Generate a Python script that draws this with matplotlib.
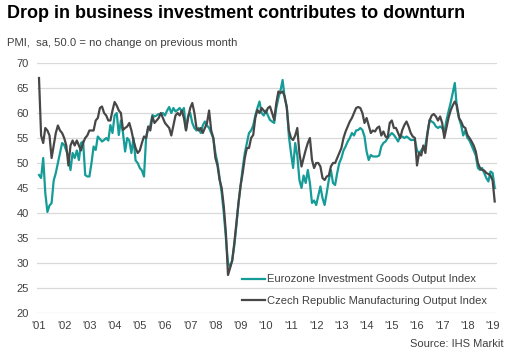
import numpy as np
import matplotlib
matplotlib.use('Agg')
import matplotlib.pyplot as plt

plt.rcParams['font.family'] = ['Liberation Sans', 'DejaVu Sans']

#x tick labels, one per january
years = ["'01", "'02", "'03", "'04", "'05", "'06", "'07", "'08", "'09", "'10",
         "'11", "'12", "'13", "'14", "'15", "'16", "'17", "'18", "'19"]

#eurozone investment goods output index, monthly from jan 2001
ez = [47.6, 47.0, 51.0, 44.0, 40.2, 41.5, 42.0, 46.5, 48.0, 50.0, 52.0, 54.0,
      53.6, 52.5, 51.3, 48.6, 52.0, 51.0, 52.5, 50.6, 54.0, 54.3, 47.6, 47.3,
      47.3, 50.0, 53.3, 52.6, 55.3, 54.8, 54.3, 54.6, 55.0, 54.5, 57.6, 56.0,
      59.5, 60.0, 55.6, 58.5, 56.0, 52.3, 55.0, 54.5, 52.0, 55.0, 50.5, 50.0,
      49.0, 48.5, 47.3, 55.0, 57.0, 57.5, 59.6, 59.3, 59.5, 59.8, 59.6, 60.0,
      59.5, 60.5, 61.2, 60.0, 61.0, 60.3, 60.6, 61.0, 60.3, 61.0, 56.6, 59.5,
      60.0, 58.0, 57.0, 56.5, 57.0, 56.0, 57.5, 58.3, 57.5, 57.0, 56.0, 55.0,
      52.0, 50.0, 47.0, 44.0, 40.0, 35.0, 30.0, 29.3, 30.5, 33.5, 37.5, 42.0,
      45.5, 49.0, 52.0, 54.0, 56.0, 56.5, 57.5, 59.5, 61.0, 62.3, 60.0, 59.5,
      60.5, 59.5, 58.6, 58.3, 58.0, 61.0, 63.0, 64.5, 66.6, 63.0, 61.3, 55.3,
      52.0, 49.0, 54.0, 51.5, 46.6, 45.0, 47.5, 46.0, 48.6, 46.0, 42.0, 42.5,
      41.6, 43.5, 45.3, 43.0, 41.6, 44.0, 46.6, 48.6, 46.0, 45.6, 48.0, 50.0,
      51.0, 52.5, 53.3, 54.3, 55.0, 56.0, 55.5, 56.5, 56.6, 57.0, 56.6, 55.3,
      52.3, 50.6, 51.6, 51.3, 51.3, 51.3, 51.5, 53.3, 54.0, 54.3, 55.0, 55.5,
      56.0, 55.6, 55.0, 54.3, 55.3, 55.3, 55.0, 55.3, 55.0, 54.6, 54.6, 54.6,
      52.5, 52.0, 52.5, 53.0, 53.5, 56.0, 58.6, 58.3, 58.0, 57.3, 57.0, 57.3,
      57.0, 56.0, 58.5, 60.3, 62.0, 64.0, 66.0, 61.0, 59.0, 57.6, 55.5, 56.5,
      55.0, 54.5, 53.5, 52.5, 51.5, 49.0, 48.6, 49.0, 48.0, 47.0, 46.3, 48.3,
      48.0, 45.0]

#czech republic manufacturing output index, monthly from jan 2001
cz = [67.0, 55.5, 54.0, 57.0, 56.5, 55.5, 51.0, 53.5, 56.0, 57.5, 56.5, 56.0,
      55.0, 53.5, 49.5, 53.5, 54.5, 53.5, 54.5, 53.5, 52.5, 54.0, 55.0, 55.5,
      56.5, 56.5, 56.5, 58.5, 59.0, 61.0, 61.3, 60.0, 59.5, 58.5, 58.5, 60.5,
      62.2, 61.5, 60.5, 60.0, 56.6, 57.0, 57.3, 58.0, 56.5, 54.5, 53.0, 52.0,
      52.5, 54.0, 55.3, 55.0, 57.3, 56.5, 59.3, 58.0, 58.5, 59.0, 60.0, 59.0,
      58.0, 57.5, 57.0, 55.5, 57.5, 59.5, 60.0, 59.5, 60.5, 59.0, 56.5, 59.0,
      61.0, 62.0, 60.0, 57.0, 56.5, 57.0, 56.0, 57.0, 58.0, 60.5, 56.5, 55.0,
      51.0, 49.5, 46.6, 45.0, 41.3, 36.0, 27.6, 29.0, 30.5, 34.0, 38.0, 42.0,
      45.5, 48.0, 51.0, 53.0, 53.0, 55.0, 55.6, 59.0, 60.6, 60.0, 61.0, 60.5,
      60.0, 61.0, 61.3, 60.0, 58.6, 62.0, 64.3, 64.0, 64.3, 63.3, 61.0, 56.5,
      55.0, 54.6, 55.5, 57.0, 52.0, 49.3, 51.0, 52.6, 54.0, 55.0, 50.6, 49.0,
      50.0, 50.0, 49.3, 47.0, 46.6, 47.3, 47.5, 49.3, 50.0, 50.0, 51.0, 52.0,
      53.0, 55.0, 56.3, 57.3, 58.3, 59.0, 60.0, 61.0, 61.2, 61.0, 60.0, 58.0,
      59.0, 57.5, 56.0, 56.5, 56.3, 57.0, 57.3, 55.5, 56.3, 55.3, 55.0, 58.0,
      58.5, 57.0, 57.0, 56.0, 55.0, 56.6, 57.6, 58.3, 57.3, 56.0, 55.3, 55.0,
      49.5, 52.0, 51.5, 53.5, 52.0, 56.0, 58.5, 59.5, 59.8, 59.3, 58.5, 59.3,
      58.0, 55.0, 57.0, 59.0, 60.5, 61.5, 62.3, 61.5, 59.0, 58.3, 57.3, 57.0,
      55.6, 55.0, 54.3, 53.5, 52.3, 50.0, 49.0, 48.6, 48.5, 48.0, 47.8, 47.5,
      46.5, 42.3]

teal = '#169c98'
grey = '#474747'
txt = '#404040'

months = np.arange(len(ez))

fig = plt.figure(figsize=(5.15, 3.57), dpi=100)
ax = fig.add_axes([37/515, 1-313/357, 460/515, 250/357])

ax.plot(months, ez, color=teal, lw=1.6, label='Eurozone Investment Goods Output Index')
ax.plot(months, cz, color=grey, lw=1.6, label='Czech Republic Manufacturing Output Index')

ax.set_xlim(-2/2.1, 460/2.1 - 2/2.1)
ax.set_ylim(20, 70)
ax.set_yticks(range(20, 75, 5))
ax.set_xticks(np.arange(len(years))*12)
ax.set_xticklabels(years)
ax.grid(axis='y', color='#d9d9d9', lw=0.9)
ax.set_axisbelow(True)
for s in ax.spines.values():
    s.set_visible(False)
ax.tick_params(length=0, labelsize=8, colors=txt)
ax.tick_params(axis='y', pad=6)
ax.tick_params(axis='x', pad=6)

ax.legend(loc='center left', bbox_to_anchor=(199/460, 23/250), frameon=False,
          fontsize=8, handlelength=2.1, handletextpad=0.15, labelspacing=1.0,
          borderpad=0, labelcolor=txt)

#title, subtitle and source
fig.text(7/515, 1-18/357, 'Drop in business investment contributes to downturn',
         fontsize=13, weight='bold', color='black', va='baseline')
fig.text(7/515, 1-45.7/357, 'PMI,  sa, 50.0 = no change on previous month',
         fontsize=8.1, color=txt, va='baseline')
fig.text(503/515, 1-344/357, 'Source: IHS Markit', fontsize=8, color=txt,
         ha='right', va='center')

fig.savefig('out.png', dpi=100)
